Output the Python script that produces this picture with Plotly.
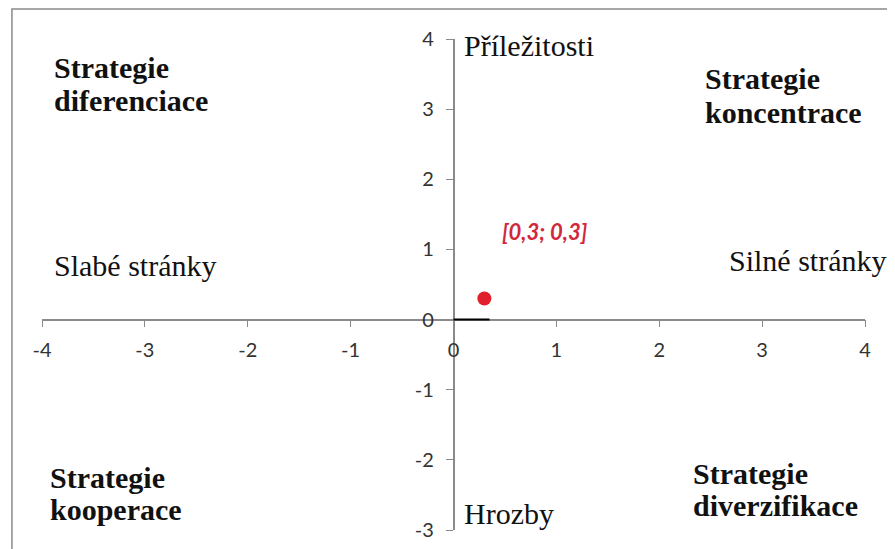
import plotly.graph_objects as go

# data
point_x = [0.3]
point_y = [0.3]
point_label = "[0,3; 0,3]"
label_x = [0.45]
label_y = [1.25]
seg_x = [0, 0.35]
seg_y = [0, 0]
x_ticks = [-4, -3, -2, -1, 0, 1, 2, 3, 4]
x_ticktext = ["-4", "-3", "-2", "-1", "0", "1", "2", "3", "4"]
y_ticks = [-3, -2, -1, 0, 1, 2, 3, 4]
y_ticktext = ["-3", "-2", "-1", "0", "1", "2", "3", "4"]
x_range = [-4, 4]
y_range = [-3, 4]

quad_line1 = ["Strategie", "Strategie", "Strategie", "Strategie"]
quad_line2 = ["diferenciace", "koncentrace", "kooperace", "diverzifikace"]
quad_x = [-3.90, 2.43, -3.94, 2.31]
quad_y1 = [3.6, 3.43, -2.25, -2.2]
quad_y2 = [3.13, 2.95, -2.71, -2.657]

axis_labels = ["Příležitosti", "Hrozby", "Slabé stránky", "Silné stránky"]
axis_lab_x = [0.078, 0.078, -3.90, 2.66]
axis_lab_y = [3.914, -2.77, 0.77, 0.84]

serif = dict(family="Liberation Serif", size=30, color="#111111")

fig = go.Figure()
fig.add_trace(go.Scatter(x=seg_x, y=seg_y, mode="lines",
                         line=dict(color="black", width=2), showlegend=False))
fig.add_trace(go.Scatter(x=point_x, y=point_y, mode="markers",
                         marker=dict(color="#e0202a", size=14), showlegend=False))

fig.add_annotation(x=label_x[0], y=label_y[0], text="<b><i>" + point_label + "</i></b>",
                   showarrow=False, xanchor="left", yanchor="middle",
                   font=dict(family="Lato", size=22, color="#d0283c"))

for l1, l2, x, y1, y2 in zip(quad_line1, quad_line2, quad_x, quad_y1, quad_y2):
    fig.add_annotation(x=x, y=y1, text="<b>" + l1 + "</b>", showarrow=False,
                       xanchor="left", yanchor="middle", font=serif)
    fig.add_annotation(x=x, y=y2, text="<b>" + l2 + "</b>", showarrow=False,
                       xanchor="left", yanchor="middle", font=serif)
for t, x, y in zip(axis_labels, axis_lab_x, axis_lab_y):
    fig.add_annotation(x=x, y=y, text=t, showarrow=False,
                       xanchor="left", yanchor="middle", font=serif)

# outer border (left and top visible)
fig.add_shape(type="rect", xref="paper", yref="paper",
              x0=-0.0365, x1=1.2, y0=-0.2, y1=1.061,
              line=dict(color="#8a8a8a", width=1.5), fillcolor="rgba(0,0,0,0)", layer="below")

axis_common = dict(showgrid=False, zeroline=False, showline=True, linecolor="#8a8a8a",
                   linewidth=1.5, ticks="outside", ticklen=7, tickcolor="#8a8a8a",
                   layer="below traces", anchor="free",
                   tickfont=dict(family="Lato", size=20, color="#333333"))

fig.update_layout(
    width=895, height=549,
    margin=dict(l=34, r=38, t=31, b=27),
    paper_bgcolor="white", plot_bgcolor="white",
    xaxis=dict(range=x_range, tickvals=x_ticks, ticktext=x_ticktext,
               ticklabelstandoff=6, position=3 / 7, **axis_common),
    yaxis=dict(range=y_range, tickvals=y_ticks, ticktext=y_ticktext,
               ticklabelstandoff=8, position=0.5, **axis_common),
)

fig.write_html("out.html")
